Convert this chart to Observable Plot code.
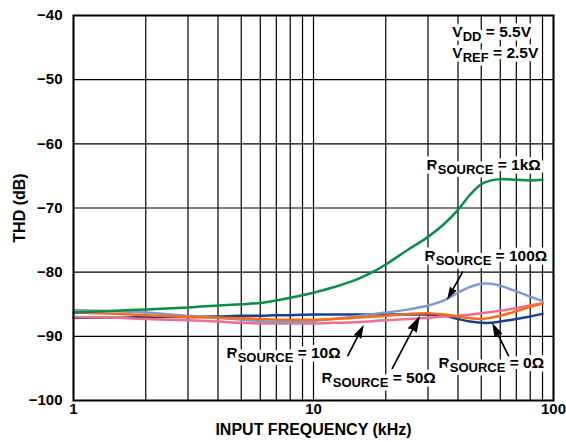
<!DOCTYPE html>
<html><head><meta charset="utf-8">
<script src="https://cdn.jsdelivr.net/npm/d3@7"></script>
<script src="https://cdn.jsdelivr.net/npm/@observablehq/plot@0.6"></script>
<style>body{margin:0;background:#fff}</style>
</head><body><div id="chart"></div>
<script>
// Input frequency (kHz)
const freq = [1, 1.5, 2, 3, 4, 5, 6, 7, 8, 10, 12, 15, 18, 20, 25, 30, 35, 40, 45, 50, 55, 60, 70, 80, 90];
// THD (dB) per source resistance
const thd1k   = [-86.3,-86.0,-85.8,-85.5,-85.2,-85.0,-84.8,-84.4,-84.0,-83.2,-82.4,-81.2,-79.8,-78.8,-76.4,-74.5,-72.5,-70.3,-67.9,-66.3,-65.7,-65.5,-65.6,-65.7,-65.6];
const thd100  = [-85.9,-86.1,-86.3,-86.8,-87.1,-87.4,-87.6,-87.8,-87.8,-87.6,-87.3,-86.9,-86.5,-86.3,-85.8,-85.2,-84.4,-83.2,-82.3,-81.8,-81.8,-82.1,-83.0,-83.8,-84.5];
const thd0    = [-87.1,-87.1,-87.0,-87.0,-86.9,-86.8,-86.8,-86.7,-86.7,-86.6,-86.6,-86.6,-86.6,-86.6,-86.6,-86.6,-86.8,-87.3,-87.7,-87.9,-87.9,-87.7,-87.3,-86.9,-86.5];
const thd10   = [-87.0,-87.1,-87.3,-87.5,-87.7,-87.9,-88.0,-88.0,-88.0,-88.0,-87.9,-87.8,-87.6,-87.5,-87.3,-87.1,-86.9,-86.8,-86.6,-86.4,-86.2,-86.0,-85.6,-85.2,-84.9];
const thd50   = [-86.3,-86.5,-86.7,-87.0,-87.1,-87.2,-87.3,-87.4,-87.4,-87.4,-87.3,-87.1,-86.9,-86.8,-86.5,-86.4,-86.6,-86.9,-87.2,-87.3,-87.1,-86.8,-86.1,-85.4,-84.9];

const seriesNames  = ["0Ω", "10Ω", "100Ω", "50Ω", "1kΩ"];
const seriesValues = [thd0, thd10, thd100, thd50, thd1k];
const seriesColors = ["#1c3f8e", "#ee6e8c", "#7d9bcc", "#ff6a12", "#0a8c4c"];

const xGrid = [1,2,3,4,5,6,7,8,9,10,20,30,40,50,60,70,80,90,100];
const xTickLabels = [1, 10, 100];
const yTicks = [-100,-90,-80,-70,-60,-50,-40];

// Annotation labels ({...} = subscript)
const labelText = ["R{SOURCE} = 1kΩ", "R{SOURCE} = 100Ω", "R{SOURCE} = 10Ω", "R{SOURCE} = 50Ω", "R{SOURCE} = 0Ω", "V{DD} = 5.5V", "V{REF} = 2.5V"];
const labelFreq = [29.6, 29.0, 4.34, 10.8, 33.2, 37.9, 37.9];
const labelDb   = [-64.15, -78.2, -93.3, -97.35, -95.0, -43.4, -46.7];

// Arrows (from label to curve)
const arrowFromF = [41.8, 13.9, 21.3, 64.9];
const arrowFromDb = [-80.0, -93.0, -95.0, -93.0];
const arrowToF = [36.5, 16.0, 27.4, 56.2];
const arrowToDb = [-83.9, -88.6, -87.2, -88.3];

const font = "'Liberation Sans', Arial, Helvetica, sans-serif";

const labels = labelText.map((t, i) => ({text: t, f: labelFreq[i], v: labelDb[i]}));
const arrows = arrowFromF.map((_, i) => ({x1: arrowFromF[i], y1: arrowFromDb[i], x2: arrowToF[i], y2: arrowToDb[i]}));

const lineMarks = seriesNames.map((name, s) =>
  Plot.line(freq.map((f, i) => ({f, v: seriesValues[s][i]})), {
    x: "f", y: "v", stroke: seriesColors[s], strokeWidth: 2.5, curve: "catmull-rom"
  })
);

const plot = Plot.plot({
  width: 566, height: 442,
  marginLeft: 73, marginRight: 13, marginTop: 15, marginBottom: 42,
  style: {fontFamily: font, fontSize: "14px", fontWeight: "bold", color: "black", background: "white"},
  x: {type: "log", domain: [1, 100]},
  y: {domain: [-100, -40]},
  marks: [
    Plot.ruleX(xGrid, {stroke: "black", strokeWidth: 1.2}),
    Plot.ruleY(yTicks, {stroke: "black", strokeWidth: 1.2}),
    Plot.text(labels, {x: "f", y: "v", text: "text", textAnchor: "start", lineAnchor: "bottom",
      fill: "black", stroke: "white", strokeWidth: 7, paintOrder: "stroke",
      fontSize: 15.5, fontWeight: "bold", fontFamily: font}),
    ...lineMarks,
    Plot.arrow(arrows, {x1: "x1", y1: "y1", x2: "x2", y2: "y2", stroke: "black", fill: "black",
      strokeWidth: 1.7, strokeLinejoin: "miter", strokeMiterlimit: 10, headLength: 12, headAngle: 34}),
    Plot.frame({stroke: "black", strokeWidth: 2}),
    Plot.axisX(xTickLabels, {tickSize: 0, tickPadding: 3, tickFormat: d => String(d), label: null, fontSize: 15, fontWeight: "bold"}),
    Plot.axisY(yTicks, {tickSize: 0, tickPadding: 11, label: null, fontSize: 15, fontWeight: "bold"}),
    Plot.text(["INPUT FREQUENCY (kHz)"], {frameAnchor: "bottom", dy: 34, lineAnchor: "bottom", textAnchor: "middle", fontSize: 16, fontWeight: "bold", fontFamily: font}),
    Plot.text(["THD (dB)"], {frameAnchor: "left", dx: -49, rotate: -90, lineAnchor: "bottom", textAnchor: "middle", fontSize: 16, fontWeight: "bold", fontFamily: font})
  ]
});

// subscripts
const ns = "http://www.w3.org/2000/svg";
plot.querySelectorAll("text").forEach(t => {
  const m = t.textContent.match(/^(.*?)\{(.*?)\}(.*)$/);
  if (!m) return;
  t.textContent = "";
  const a = document.createElementNS(ns, "tspan"); a.textContent = m[1];
  const b = document.createElementNS(ns, "tspan"); b.textContent = m[2];
  b.setAttribute("font-size", "13px"); b.setAttribute("dy", "4");
  const c = document.createElementNS(ns, "tspan"); c.textContent = m[3];
  c.setAttribute("dy", "-4");
  t.append(a, b, c);
});

document.getElementById("chart").append(plot);
</script>
</body></html>
